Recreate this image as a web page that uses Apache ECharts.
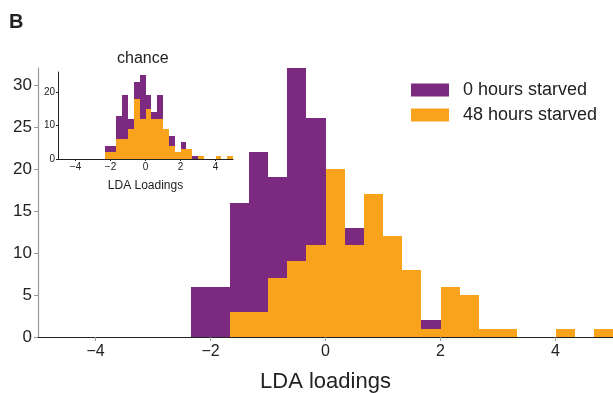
<!DOCTYPE html>
<html>
<head>
    <meta charset="utf-8">
    <title>LDA loadings</title>
    <script src="https://cdn.jsdelivr.net/npm/echarts@6/dist/echarts.min.js"></script>
    <style>
        html, body { margin: 0; padding: 0; background: #fff; }
    </style>
</head>
<body>
    <div id="main" style="width: 613px;height:393px;"></div>
    <script type="text/javascript">

// bins are 1/3 wide, left edges listed here
var binWidth = 1 / 3;
var binLeft = [-2.333, -2.0, -1.667, -1.333, -1.0, -0.667, -0.333, 0.0, 0.333, 0.667, 1.0,
               1.333, 1.667, 2.0, 2.333, 2.667, 3.0, 3.333, 3.667, 4.0, 4.333, 4.667];

// main panel counts
var starved0 = [6, 6, 16, 22, 19, 32, 26, 14, 13, 10, 7, 4, 2, 1, 0, 0, 0, 0, 0, 0, 0, 0];
var starved48 = [0, 0, 3, 3, 7, 9, 11, 20, 11, 17, 12, 8, 1, 6, 5, 1, 1, 0, 0, 1, 0, 1];

// inset ("chance") counts
var chance0 = [4, 4, 13, 19, 12, 23, 25, 19, 14, 19, 9, 7, 2, 5, 2, 1, 0, 0, 0, 0, 0, 0];
var chance48 = [2, 2, 6, 6, 9, 18, 12, 15, 12, 12, 9, 4, 2, 3, 3, 0, 1, 0, 0, 1, 0, 1];

var xTicks = [-4, -2, 0, 2, 4];
var yTicks = [0, 5, 10, 15, 20, 25, 30];
var insetYTicks = [0, 10, 20];

var purple = '#7b2a7f';
var orange = '#f9a31c';
var font = 'Liberation Sans, Arial, sans-serif';

function toPairs(counts) {
    return binLeft.map(function (x, i) { return [x, counts[i]]; });
}

// one histogram bar, snapped to whole pixels so neighbours don't leave seams
function histRender(params, api) {
    var x0 = api.value(0);
    var h = api.value(1);
    if (!h) return;
    var top = api.coord([x0, h]);
    var bot = api.coord([x0 + binWidth, 0]);
    var l = Math.round(top[0]), r = Math.round(bot[0]);
    var t = Math.round(top[1]), b = Math.round(bot[1]);
    return {
        type: 'rect',
        shape: { x: l, y: t, width: r - l, height: b - t },
        style: { fill: api.visual('color') }
    };
}

function minus(v) {
    return String(v).replace('-', '\u2212');
}

var myChart = echarts.init(document.getElementById('main'));
myChart.setOption({
    animation: false,
    textStyle: { fontFamily: font },
    graphic: [
        { type: 'text', left: 9, top: 12, style: { text: 'B', font: 'bold 20px ' + font, fill: '#222' } },
        { type: 'text', left: 117, top: 51, style: { text: 'chance', font: '16px ' + font, fill: '#222' } }
    ],
    legend: {
        data: ['0 hours starved', '48 hours starved'],
        orient: 'vertical',
        left: 411,
        top: 81,
        padding: 0,
        icon: 'rect',
        itemWidth: 38,
        itemHeight: 13,
        itemGap: 7,
        textStyle: { fontSize: 18, color: '#222', fontFamily: font, padding: [0, 0, 0, 9] }
    },
    grid: [
        { left: 38, top: 68, width: 575, height: 269, outerBoundsMode: 'none' },
        { left: 58, top: 72, width: 175, height: 87, outerBoundsMode: 'none' }
    ],
    xAxis: [
        {
            type: 'value', gridIndex: 0, min: -5, max: 5,
            name: 'LDA loadings', nameLocation: 'middle', nameGap: 34,
            nameTextStyle: { fontSize: 22, color: '#222', fontFamily: font },
            splitLine: { show: false },
            axisLine: { onZero: false, lineStyle: { color: '#222', width: 1.2 } },
            axisTick: { customValues: xTicks, length: 4, lineStyle: { color: '#999' } },
            axisLabel: { customValues: xTicks, fontSize: 16, color: '#222', margin: 7, formatter: minus }
        },
        {
            type: 'value', gridIndex: 1, min: -5, max: 5,
            name: 'LDA Loadings', nameLocation: 'middle', nameGap: 21,
            nameTextStyle: { fontSize: 12, color: '#222', fontFamily: font },
            splitLine: { show: false },
            axisLine: { onZero: false, lineStyle: { color: '#222', width: 1 } },
            axisTick: { customValues: xTicks, length: 2, lineStyle: { color: '#222' } },
            axisLabel: { customValues: xTicks, fontSize: 10, color: '#222', margin: 3, formatter: minus }
        }
    ],
    yAxis: [
        {
            type: 'value', gridIndex: 0, min: 0, max: 32,
            splitLine: { show: false },
            axisLine: { show: true, onZero: false, lineStyle: { color: '#999', width: 1.2 } },
            axisTick: { show: true, customValues: yTicks, length: 4, lineStyle: { color: '#999' } },
            axisLabel: { customValues: yTicks, fontSize: 17, color: '#222', margin: 6 }
        },
        {
            type: 'value', gridIndex: 1, min: 0, max: 26,
            splitLine: { show: false },
            axisLine: { show: true, onZero: false, lineStyle: { color: '#222', width: 1 } },
            axisTick: { show: true, customValues: insetYTicks, length: 2, lineStyle: { color: '#222' } },
            axisLabel: { customValues: insetYTicks, fontSize: 10, color: '#222', margin: 3 }
        }
    ],
    series: [
        {
            name: '0 hours starved', type: 'custom', renderItem: histRender,
            xAxisIndex: 0, yAxisIndex: 0, itemStyle: { color: purple },
            encode: { x: 0, y: 1 }, data: toPairs(starved0)
        },
        {
            name: '48 hours starved', type: 'custom', renderItem: histRender,
            xAxisIndex: 0, yAxisIndex: 0, itemStyle: { color: orange },
            encode: { x: 0, y: 1 }, data: toPairs(starved48)
        },
        {
            name: 'chance 0', type: 'custom', renderItem: histRender,
            xAxisIndex: 1, yAxisIndex: 1, itemStyle: { color: purple },
            encode: { x: 0, y: 1 }, data: toPairs(chance0)
        },
        {
            name: 'chance 48', type: 'custom', renderItem: histRender,
            xAxisIndex: 1, yAxisIndex: 1, itemStyle: { color: orange },
            encode: { x: 0, y: 1 }, data: toPairs(chance48)
        }
    ]
});
</script>
</body>
</html>
